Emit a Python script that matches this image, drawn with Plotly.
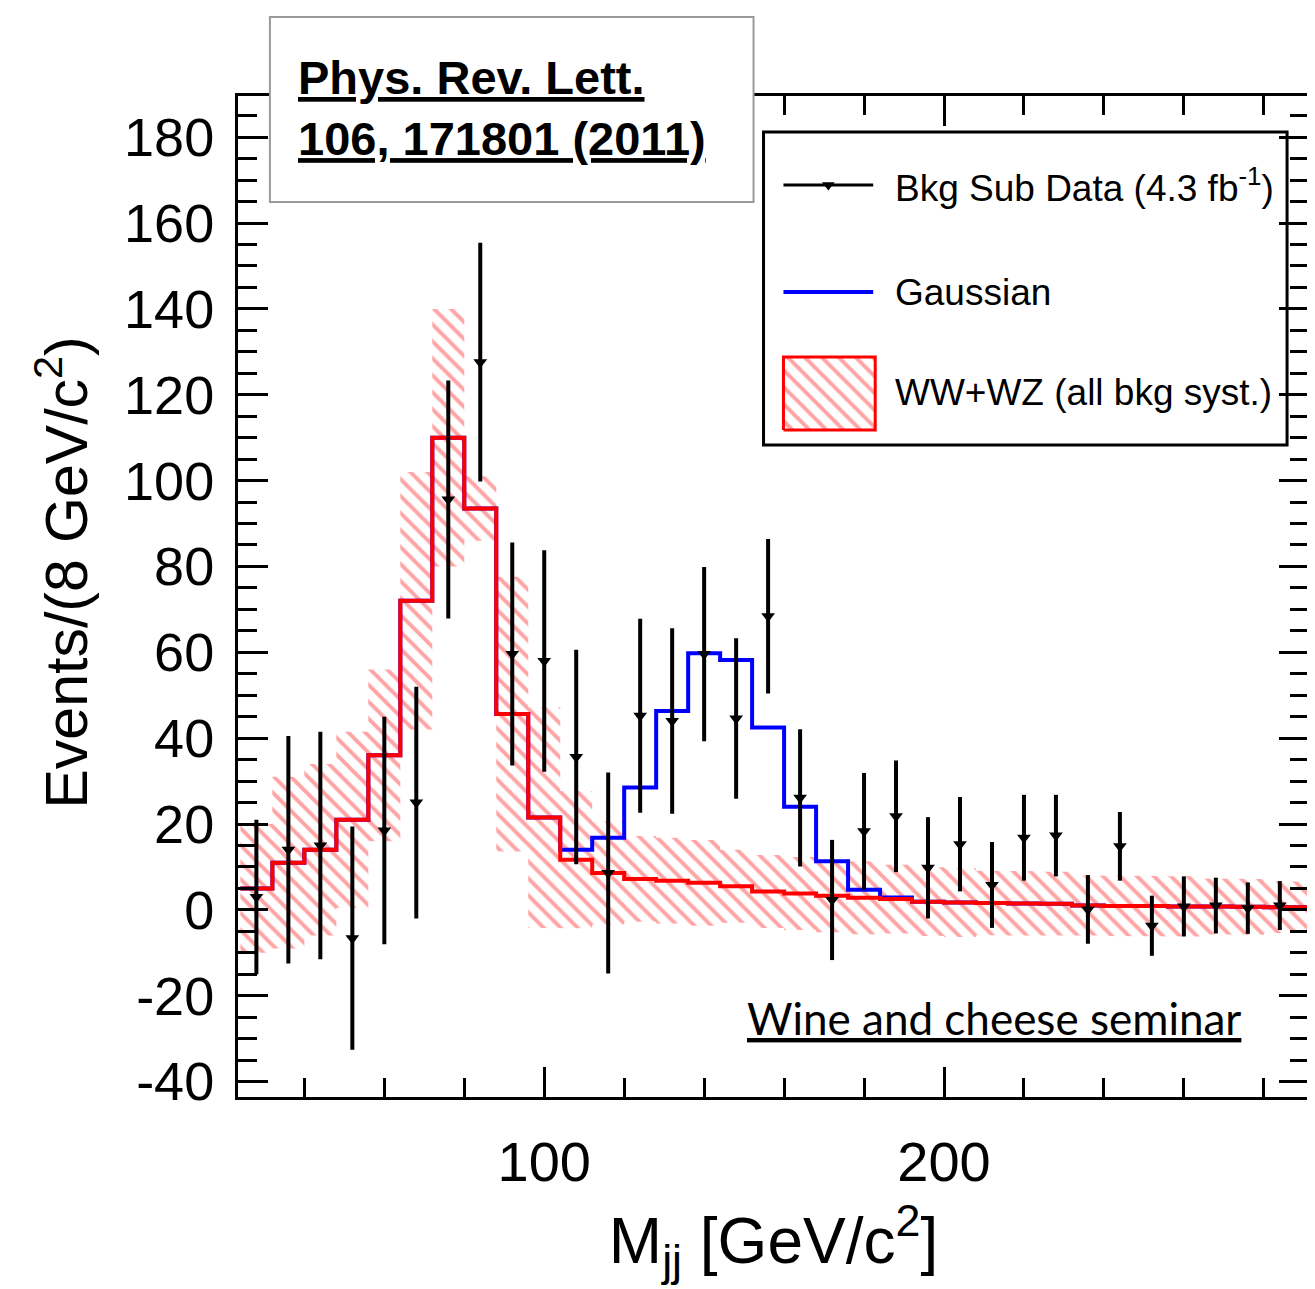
import plotly.graph_objects as go

# ---------------- data ----------------
bin_edges = [24, 32, 40, 48, 56, 64, 72, 80, 88, 96, 104, 112, 120, 128, 136, 144, 152,
             160, 168, 176, 184, 192, 200, 208, 216, 224, 232, 240, 248, 256, 264, 272,
             280, 288, 296]
bkg = [5, 11, 14, 21, 36, 72, 110, 93.5, 45.6, 21.5, 11.7, 8.6, 7.2, 6.8, 6.3, 5.5, 4.3,
       3.8, 3.3, 2.8, 2.5, 1.9, 1.7, 1.6, 1.5, 1.4, 1.0, 0.9, 0.9, 0.8, 0.8, 0.7, 0.6, 0.6]
bkg_syst = [15, 20, 20, 20.5, 20, 30, 30, 7.5, 32, 25.7, 16, 12, 10, 10, 10, 8.5, 8.5,
            8.5, 8.5, 8.5, 8, 8, 8, 7.5, 7.5, 7.5, 7, 7, 7, 7, 6.5, 6.5, 6, 6]
gauss = [0, 0, 0, 0, 0, 0, 0, 0, 0, 0, 2.3, 8.2, 21.3, 39.5, 53.5, 52.7, 38.2,
         20.2, 8.0, 1.9, 0.4, 0, 0, 0, 0, 0, 0, 0, 0, 0, 0, 0, 0, 0]

data_x = [28, 36, 44, 52, 60, 68, 76, 84, 92, 100, 108, 116, 124, 132, 140, 148, 156,
          164, 172, 180, 188, 196, 204, 212, 220, 228, 236, 244, 252, 260, 268, 276, 284]
data_y = [3, 14, 15, -6.6, 18.5, 25, 95.6, 127.6, 59.6, 58.0, 35.6, 8.6, 45.2, 44.0, 59.6,
          44.6, 68.4, 26.1, 2.3, 18.3, 21.8, 9.8, 15.3, 5.8, 16.8, 17.3, 0.1, 14.8, -3.7,
          0.8, 1.0, 0.4, 1.0]
data_err = [18, 26.5, 26.5, 26, 26.5, 27, 27.7, 27.8, 26, 25.8, 25, 23.4, 22.6, 21.6, 20.3,
            18.7, 18, 16, 14, 13.6, 13, 11.8, 11, 10, 10, 9.5, 8, 8, 7, 7, 6.5, 6, 5.7]

y_ticks = [-40, -20, 0, 20, 40, 60, 80, 100, 120, 140, 160, 180]
y_ticktext = ["-40", "-20", "0", "20", "40", "60", "80", "100", "120", "140", "160", "180"]
x_ticks = [100, 200]
x_ticktext = ["100", "200"]

legend_labels = ["Bkg Sub Data (4.3 fb<sup>-1</sup>)", "Gaussian", "WW+WZ (all bkg syst.)"]

# ---------------- layout geometry (screen pixels; page body has an 8px margin) ----------------
OFF = 8
W, H = 1315 - OFF, 1289 - OFF
L, R, T, B = 238, 1312, 96, 1097   # plot area in screen pixels


def fx(px):
    return (px - L) / (R - L)


def fy(py):
    return (B - py) / (B - T)


def step_xy(vals):
    return bin_edges, list(vals) + [vals[-1]]


# band polygon
up = [b + s for b, s in zip(bkg, bkg_syst)]
lo = [b - s for b, s in zip(bkg, bkg_syst)]
band_x, band_y = [], []
for i in range(len(bkg)):
    band_x += [bin_edges[i], bin_edges[i + 1]]
    band_y += [up[i], up[i]]
for i in reversed(range(len(bkg))):
    band_x += [bin_edges[i + 1], bin_edges[i]]
    band_y += [lo[i], lo[i]]

total = [b + g for b, g in zip(bkg, gauss)]

RED = "#ff0000"
BLUE = "#0000ff"
hatch = dict(shape="\\", fgcolor="rgba(255,40,40,0.85)", bgcolor="rgba(0,0,0,0)",
             size=12, solidity=0.33)

fig = go.Figure()

fig.add_trace(go.Scatter(x=band_x, y=band_y, fill="toself", mode="lines",
                         line=dict(width=0, color="rgba(0,0,0,0)"),
                         fillcolor="rgba(0,0,0,0)", fillpattern=hatch,
                         hoverinfo="skip", showlegend=False))

sx, sy = step_xy(total)
fig.add_trace(go.Scatter(x=sx, y=sy, mode="lines", line=dict(color=BLUE, width=4, shape="hv"),
                         showlegend=False))
sx, sy = step_xy(bkg)
fig.add_trace(go.Scatter(x=sx, y=sy, mode="lines", line=dict(color=RED, width=4, shape="hv"),
                         showlegend=False))

fig.add_trace(go.Scatter(x=data_x, y=data_y, mode="markers",
                         marker=dict(symbol="triangle-down", size=12, color="black"),
                         error_y=dict(type="data", array=data_err, visible=True,
                                      thickness=4, width=0, color="black"),
                         showlegend=False))

# ---------------- manual legend (drawn on overlay axes in plot-fraction units) ----------------
lx0, lx1 = fx(785), fx(875)
ly1, ly2, ly3 = fy(185), fy(292), fy(392)
fig.add_trace(go.Scatter(x=[lx0, lx1], y=[ly1, ly1], mode="lines",
                         line=dict(color="black", width=3), xaxis="x2", yaxis="y2",
                         showlegend=False, hoverinfo="skip"))
fig.add_trace(go.Scatter(x=[(lx0 + lx1) / 2], y=[ly1], mode="markers",
                         marker=dict(symbol="triangle-down", size=11, color="black"),
                         xaxis="x2", yaxis="y2", showlegend=False, hoverinfo="skip"))
fig.add_trace(go.Scatter(x=[lx0, lx1], y=[ly2, ly2], mode="lines",
                         line=dict(color=BLUE, width=4), xaxis="x2", yaxis="y2",
                         showlegend=False, hoverinfo="skip"))
bx0, bx1, by0, by1 = fx(785), fx(877), fy(430), fy(357)
fig.add_trace(go.Scatter(x=[bx0, bx1, bx1, bx0, bx0], y=[by0, by0, by1, by1, by0],
                         mode="lines", fill="toself", fillcolor="rgba(0,0,0,0)",
                         fillpattern=hatch, line=dict(color=RED, width=3),
                         xaxis="x2", yaxis="y2", showlegend=False, hoverinfo="skip"))

for lbl, yy in zip(legend_labels, [ly1, ly2, ly3]):
    fig.add_annotation(x=fx(895), y=yy, xref="paper", yref="paper", text=lbl,
                       showarrow=False, xanchor="left", yanchor="middle",
                       font=dict(family="Liberation Sans, Arial", size=37, color="black"))

shapes = [
    dict(type="rect", xref="paper", yref="paper", x0=fx(765), x1=fx(1290), y0=fy(445), y1=fy(132),
         line=dict(color="black", width=3), fillcolor="white", layer="below"),
    dict(type="rect", xref="paper", yref="paper", x0=fx(270), x1=fx(755), y0=fy(202), y1=fy(17),
         line=dict(color="#9a9a9a", width=2), fillcolor="white", layer="above"),
]

fig.add_annotation(x=fx(296), y=fy(108), xref="paper", yref="paper",
                   text="<b><u>Phys. Rev. Lett.</u></b><br><b><u>106, 171801 (2011)</u></b>",
                   showarrow=False, xanchor="left", yanchor="middle", align="left",
                   font=dict(family="Liberation Sans, Arial", size=47, color="black"))

fig.add_annotation(x=fx(996), y=fy(1018), xref="paper", yref="paper",
                   text="<u>Wine and cheese seminar</u>", showarrow=False,
                   xanchor="center", yanchor="middle",
                   font=dict(family="Lato, Liberation Sans", size=44, color="black"))

# y-axis title placed as rotated annotation to match the reference position
fig.add_annotation(x=fx(62), y=fy(572), xref="paper", yref="paper",
                   text="Events/(8 GeV/c<sup>2</sup>)", textangle=-90, showarrow=False,
                   xanchor="center", yanchor="middle",
                   font=dict(family="Liberation Sans, Arial", size=59, color="black"))

axis_common = dict(showline=True, linewidth=3, linecolor="black", mirror="allticks",
                   ticks="inside", tickwidth=3, tickcolor="black", ticklen=30,
                   showgrid=False, zeroline=False)

fig.update_layout(
    width=W, height=H,
    margin=dict(l=L - OFF, r=W - (R - OFF), t=T - OFF, b=H - (B - OFF), pad=0),
    paper_bgcolor="white", plot_bgcolor="white",
    font=dict(family="Liberation Sans, Arial", color="black"),
    showlegend=False,
    shapes=shapes,
    xaxis=dict(range=[23.4, 291.3], tickmode="array", tickvals=x_ticks, ticktext=x_ticktext,
               tickfont=dict(size=56), ticklabelstandoff=14,
               minor=dict(ticks="inside", dtick=20, tick0=0, ticklen=19, tickwidth=3,
                          tickcolor="black", showgrid=False),
               title=dict(text="M<sub>jj</sub> [GeV/c<sup>2</sup>]", font=dict(size=64), standoff=26),
               **axis_common),
    yaxis=dict(range=[-43.6, 189.6], tickmode="array", tickvals=y_ticks, ticktext=y_ticktext,
               tickfont=dict(size=54), ticklabelstandoff=10,
               minor=dict(ticks="inside", dtick=5, tick0=0, ticklen=19, tickwidth=3,
                          tickcolor="black", showgrid=False),
               **axis_common),
    xaxis2=dict(overlaying="x", range=[0, 1], visible=False, fixedrange=True),
    yaxis2=dict(overlaying="y", range=[0, 1], visible=False, fixedrange=True),
)

fig.write_html("out.html")
